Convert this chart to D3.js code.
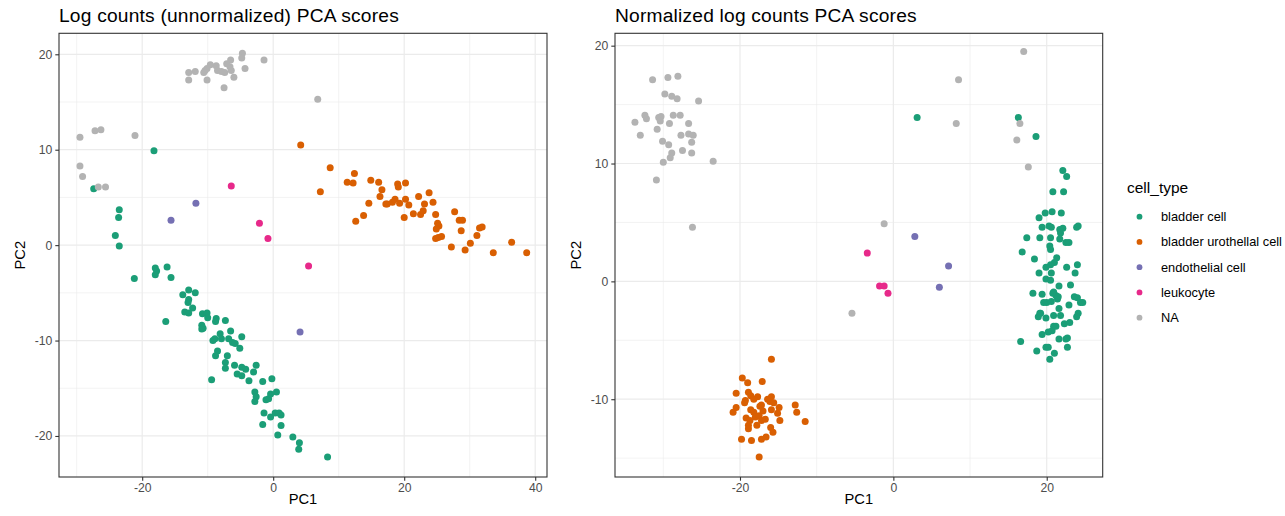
<!DOCTYPE html>
<html>
<head>
<meta charset="utf-8">
<title>PCA scores</title>
<script src="https://d3js.org/d3.v7.min.js"></script>
<style>
  body { margin: 0; background: #fff; }
  text { font-family: "Liberation Sans", Arial, sans-serif; }
  .axis-title { fill: #000; font-size: 14.7px; }
  .plot-title { fill: #000; font-size: 19.2px; }
  .legend-title { fill: #000; font-size: 15.5px; }
  .legend-label { fill: #000; font-size: 12.8px; }
</style>
</head>
<body>
<div id="chart"></div>
<script>
const cellTypes = ["bladder cell", "bladder urothellal cell", "endothelial cell", "leukocyte", "NA"];
const typeColors = ["#1B9E77", "#D95F02", "#7570B3", "#E7298A", "#B3B3B3"];

// left panel: log counts (unnormalized), [PC1, PC2]
const rawBladder = [[-18.2,9.9],[-27.4,5.9],[-23.5,3.7],[-23.6,2.9],[-24.1,1.0],[-23.5,-0.1],[-21.2,-3.5],
  [-18.0,-2.4],[-17.8,-2.7],[-18.0,-3.1],[-16.2,-2.3],[-15.6,-3.4],[-16.4,-8.0],[-13.8,-5.2],[-12.9,-4.7],
  [-11.9,-5.0],[-12.9,-5.7],[-13.0,-6.0],[-13.5,-7.0],[-12.9,-7.1],[-12.3,-6.6],[-10.8,-7.2],[-10.1,-7.1],
  [-10.0,-7.6],[-10.9,-8.4],[-10.9,-8.8],[-10.7,-8.7],[-8.7,-7.7],[-8.8,-8.0],[-7.3,-7.9],[-6.5,-9.0],
  [-8.1,-9.3],[-9.2,-10.0],[-8.9,-9.8],[-6.8,-9.8],[-6.2,-10.2],[-5.8,-10.3],[-5.1,-10.8],[-4.8,-9.6],
  [-7.9,-9.8],[-8.5,-11.1],[-8.8,-11.6],[-7.0,-11.6],[-7.3,-12.3],[-7.3,-12.9],[-5.9,-12.6],[-4.8,-12.8],
  [-5.5,-13.5],[-4.8,-13.7],[-4.2,-13.0],[-3.0,-13.3],[-2.6,-12.6],[-3.7,-14.2],[-9.4,-14.1],[-1.6,-14.3],
  [-0.2,-14.0],[-2.8,-15.4],[-2.6,-15.9],[-2.8,-16.4],[-1.1,-16.2],[-0.7,-16.1],[-0.4,-15.6],[0.5,-15.4],
  [-1.4,-17.6],[-0.4,-18.0],[0.3,-17.6],[0.9,-17.6],[1.2,-17.8],[-1.6,-18.8],[1.2,-18.9],[0.7,-19.9],
  [3.0,-20.1],[4.0,-20.7],[3.9,-21.4],[8.3,-22.2]];
const rawUrothelial = [[4.2,10.5],[8.7,8.1],[7.2,5.6],[11.3,6.6],[12.2,6.5],[12.4,7.5],[12.6,2.5],[13.8,3.1],
  [14.6,4.4],[14.9,6.8],[16.1,6.6],[16.6,5.8],[16.3,5.1],[17.2,4.3],[17.4,4.3],[18.2,4.5],[18.6,4.8],
  [19.0,6.4],[19.1,6.1],[19.3,4.4],[20.2,6.5],[20.2,4.8],[20.0,2.9],[20.7,4.2],[21.4,3.3],[22.2,5.1],
  [22.5,3.2],[22.9,3.6],[23.1,4.3],[23.8,5.5],[24.4,4.5],[24.8,3.2],[25.1,2.3],[25.3,2.0],[24.9,1.7],
  [24.8,0.7],[25.2,0.8],[25.7,0.9],[27.2,-0.2],[27.7,3.5],[28.4,2.6],[28.9,2.6],[28.7,1.5],[29.3,-0.5],
  [30.1,0.2],[31.1,1.0],[31.5,1.8],[31.9,1.9],[33.6,-0.8],[36.4,0.3],[38.7,-0.8]];
const rawEndothelial = [[-15.6,2.6],[-11.8,4.4],[4.1,-9.1]];
const rawLeukocyte = [[-6.4,6.2],[-2.1,2.3],[-0.8,0.7],[5.4,-2.2]];
const rawNA = [[-29.5,11.3],[-27.2,12.0],[-26.3,12.1],[-21.1,11.5],[-29.5,8.3],[-29.1,7.2],[-26.7,6.1],
  [-25.6,6.1],[6.8,15.3],[-1.4,19.4],[-4.7,20.1],[-4.8,19.6],[-4.3,18.5],[-6.5,19.4],[-6.0,17.6],
  [-7.5,16.5],[-6.6,18.7],[-7.1,19.0],[-7.4,18.1],[-6.4,18.3],[-8.7,18.8],[-9.6,18.9],[-10.1,18.5],
  [-10.4,18.3],[-10.6,18.1],[-10.1,17.3],[-11.9,18.2],[-12.9,18.1],[-12.9,17.3],[-8.5,18.3],[-7.9,18.2]];

// right panel: normalized log counts, [PC1, PC2]
const normBladder = [[3.1,13.9],[16.3,13.9],[18.6,12.3],[22.1,9.4],[22.6,8.9],[20.8,7.6],[22.2,7.6],
  [19.0,5.4],[19.8,5.8],[20.7,5.9],[21.9,5.8],[19.4,4.6],[20.3,4.7],[20.6,4.6],[21.7,4.4],[23.9,4.6],
  [17.4,3.7],[19.1,3.7],[20.5,3.7],[21.8,4.1],[21.7,3.6],[22.5,3.3],[22.9,3.3],[20.4,3.0],[20.5,2.7],
  [16.8,2.5],[18.4,1.9],[21.3,2.0],[21.0,1.6],[20.5,1.4],[19.9,1.2],[24.0,1.4],[22.6,1.2],[19.0,0.7],
  [20.6,0.7],[23.7,0.7],[19.9,0.2],[20.5,0.1],[21.6,-0.4],[23.1,-0.3],[18.2,-1.0],[19.4,-1.1],
  [20.8,-1.0],[21.2,-1.2],[21.4,-1.5],[20.0,-1.8],[19.6,-1.8],[22.9,-2.0],[24.0,-1.4],[24.4,-1.8],
  [21.6,-2.3],[24.1,-2.7],[23.9,-3.0],[19.1,-2.7],[18.9,-3.0],[19.9,-3.1],[20.9,-2.9],[21.8,-2.9],
  [22.3,-3.6],[23.0,-3.5],[20.9,-3.8],[20.7,-4.2],[20.2,-4.3],[19.4,-4.5],[21.6,-4.9],[22.5,-4.9],
  [16.6,-5.1],[19.9,-5.6],[22.7,-5.6],[18.7,-5.9],[21.0,-6.1],[20.4,-6.6],[22.1,4.5],[24.1,4.7],
  [23.6,-1.3],[24.7,-1.8],[20.9,-0.9],[21.5,-1.3],[20.6,-1.7],[19.2,-2.7],[21.2,-3.8],[22.7,-4.8],
  [20.2,-5.6]];
const normUrothelial = [[-15.9,-6.6],[-19.7,-8.2],[-19.0,-8.6],[-17.1,-8.5],[-20.5,-9.5],[-18.9,-9.4],
  [-18.6,-9.7],[-17.7,-9.8],[-19.3,-10.1],[-16.4,-10.0],[-15.9,-9.8],[-16.1,-10.2],[-15.6,-10.3],
  [-17.2,-10.5],[-17.4,-10.6],[-20.5,-10.7],[-20.9,-11.1],[-18.6,-10.9],[-18.2,-11.1],[-17.0,-11.0],
  [-15.9,-10.9],[-14.9,-10.7],[-12.8,-10.5],[-12.6,-11.1],[-11.5,-11.9],[-15.1,-11.2],[-14.8,-11.8],
  [-19.2,-11.6],[-18.7,-11.8],[-18.0,-11.5],[-17.5,-11.4],[-17.2,-11.8],[-16.7,-11.7],[-18.9,-12.2],
  [-17.8,-12.2],[-18.9,-12.5],[-16.0,-12.4],[-15.7,-12.8],[-19.8,-13.4],[-18.5,-13.5],[-17.2,-13.4],
  [-16.6,-13.2],[-17.5,-14.9],[-19.4,-10.3],[-18.2,-10.0]];
const normEndothelial = [[2.8,3.8],[7.2,1.3],[6.0,-0.5]];
const normLeukocyte = [[-3.4,2.4],[-1.8,-0.4],[-1.2,-0.4],[-0.7,-1.0]];
const normNA = [[17.0,19.5],[8.5,17.1],[8.2,13.4],[16.5,13.4],[16.1,12.0],[17.6,9.7],[-1.2,4.9],[-5.4,-2.7],
  [-26.2,4.6],[-30.9,8.6],[-31.4,17.1],[-29.4,17.3],[-28.1,17.4],[-29.8,15.9],[-28.9,15.7],[-28.2,15.5],
  [-25.4,15.3],[-33.7,13.5],[-32.4,14.1],[-32.2,13.8],[-30.6,13.9],[-30.3,14.0],[-30.4,13.6],[-29.2,13.4],
  [-28.7,14.1],[-27.8,14.1],[-26.7,13.4],[-33.0,12.4],[-30.8,12.9],[-27.7,12.4],[-26.7,12.5],[-26.1,12.4],
  [-30.1,11.9],[-29.3,11.6],[-26.3,11.8],[-28.9,10.9],[-29.1,10.5],[-27.5,11.1],[-26.3,10.9],[-30.0,10.1],
  [-23.5,10.2]];

const rawTicksX = [-20, 0, 20, 40];
const rawTicksY = [-20, -10, 0, 10, 20];
const normTicksX = [-20, 0, 20];
const normTicksY = [-10, 0, 10, 20];

const W = 1285, H = 516;
const svg = d3.select('#chart').append('svg')
  .attr('width', W).attr('height', H);
svg.append('rect').attr('width', W).attr('height', H).attr('fill', '#fff');

function midpoints(ticks, domain) {
  const step = ticks[1] - ticks[0];
  const out = [];
  for (let v = ticks[0] - step / 2; v <= domain[1]; v += step) {
    if (v >= domain[0] && v <= domain[1]) out.push(v);
  }
  return out;
}

function drawPanel(cfg) {
  const x = d3.scaleLinear().domain(cfg.xDomain).range([cfg.left, cfg.right]);
  const y = d3.scaleLinear().domain(cfg.yDomain).range([cfg.bottom, cfg.top]);
  const g = svg.append('g');

  // minor grid
  g.selectAll('.minor-x').data(midpoints(cfg.xTicks, cfg.xDomain)).join('line')
    .attr('x1', d => x(d)).attr('x2', d => x(d)).attr('y1', cfg.top).attr('y2', cfg.bottom)
    .attr('stroke', '#ebebeb').attr('stroke-width', 0.6);
  g.selectAll('.minor-y').data(midpoints(cfg.yTicks, cfg.yDomain)).join('line')
    .attr('y1', d => y(d)).attr('y2', d => y(d)).attr('x1', cfg.left).attr('x2', cfg.right)
    .attr('stroke', '#ebebeb').attr('stroke-width', 0.6);
  // major grid
  g.selectAll('.major-x').data(cfg.xTicks).join('line')
    .attr('x1', d => x(d)).attr('x2', d => x(d)).attr('y1', cfg.top).attr('y2', cfg.bottom)
    .attr('stroke', '#ebebeb').attr('stroke-width', 1.2);
  g.selectAll('.major-y').data(cfg.yTicks).join('line')
    .attr('y1', d => y(d)).attr('y2', d => y(d)).attr('x1', cfg.left).attr('x2', cfg.right)
    .attr('stroke', '#ebebeb').attr('stroke-width', 1.2);

  // points, one layer per cell type
  cfg.series.forEach((pts, i) => {
    g.append('g').selectAll('circle').data(pts).join('circle')
      .attr('cx', d => x(d[0])).attr('cy', d => y(d[1])).attr('r', 3.5)
      .attr('fill', typeColors[i]);
  });

  // border
  g.append('rect')
    .attr('x', cfg.left).attr('y', cfg.top)
    .attr('width', cfg.right - cfg.left).attr('height', cfg.bottom - cfg.top)
    .attr('fill', 'none').attr('stroke', '#333').attr('stroke-width', 1.1);

  // axes
  const xAxis = d3.axisBottom(x).tickValues(cfg.xTicks).tickSize(3.7).tickPadding(3);
  const yAxis = d3.axisLeft(y).tickValues(cfg.yTicks).tickSize(3.7).tickPadding(3);
  const gx = g.append('g').attr('transform', `translate(0,${cfg.bottom})`).call(xAxis);
  const gy = g.append('g').attr('transform', `translate(${cfg.left},0)`).call(yAxis);
  [gx, gy].forEach(a => {
    a.select('.domain').remove();
    a.selectAll('.tick line').attr('stroke', '#333').attr('stroke-width', 1.1);
    a.selectAll('.tick text').attr('fill', '#4d4d4d')
      .style('font-family', '"Liberation Sans", Arial, sans-serif').style('font-size', '12.2px')
      .text(d => d < 0 ? '-' + Math.abs(d) : d);
  });

  g.append('text').attr('class', 'axis-title')
    .attr('x', (cfg.left + cfg.right) / 2).attr('y', 504).attr('text-anchor', 'middle').text('PC1');
  g.append('text').attr('class', 'axis-title')
    .attr('transform', `translate(${cfg.left - 34},${(cfg.top + cfg.bottom) / 2}) rotate(-90)`)
    .attr('text-anchor', 'middle').text('PC2');
  g.append('text').attr('class', 'plot-title')
    .attr('x', cfg.left).attr('y', 22).style('letter-spacing', '0.2px').text(cfg.title);
}

drawPanel({
  title: 'Log counts (unnormalized) PCA scores',
  left: 59, right: 547, top: 33.3, bottom: 477,
  xDomain: [-32.7, 41.8], yDomain: [-24.3, 22.2],
  xTicks: rawTicksX, yTicks: rawTicksY,
  series: [rawBladder, rawUrothelial, rawEndothelial, rawLeukocyte, rawNA]
});

drawPanel({
  title: 'Normalized log counts PCA scores',
  left: 615, right: 1102.7, top: 33.3, bottom: 477,
  xDomain: [-36.3, 27.3], yDomain: [-16.6, 21.05],
  xTicks: normTicksX, yTicks: normTicksY,
  series: [normBladder, normUrothelial, normEndothelial, normLeukocyte, normNA]
});

// legend
const legend = svg.append('g').attr('transform', 'translate(1114,0)');
legend.append('text').attr('class', 'legend-title').attr('x', 13).attr('y', 193).text('cell_type');
const keyY = d3.scalePoint().domain(cellTypes).range([216.7, 317.7]);
const items = legend.selectAll('.item').data(cellTypes).join('g')
  .attr('transform', d => `translate(0,${keyY(d)})`);
items.append('circle').attr('cx', 25.5).attr('cy', 0).attr('r', 2.9)
  .attr('fill', (d, i) => typeColors[i]);
items.append('text').attr('class', 'legend-label').attr('x', 47).attr('y', 4.5).text(d => d);
</script>
</body>
</html>
